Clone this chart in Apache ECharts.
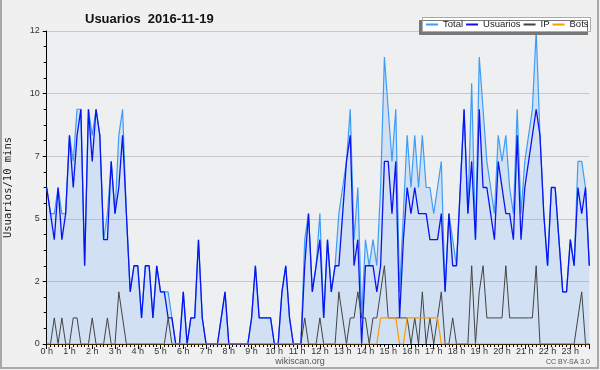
<!DOCTYPE html>
<html>
<head>
<meta charset="utf-8">
<script src="https://cdn.jsdelivr.net/npm/echarts@6/dist/echarts.min.js"></script>
<style>
html,body{margin:0;padding:0;background:#f0f0f0;}
#c{width:600px;height:370px;}
</style>
</head>
<body>
<div id="c"></div>
<script>
// 10-minute slots, 0:00 .. 23:50
var hourLabels = ['0 h','1 h','2 h','3 h','4 h','5 h','6 h','7 h','8 h','9 h','10 h','11 h','12 h','13 h','14 h','15 h','16 h','17 h','18 h','19 h','20 h','21 h','22 h','23 h'];
var yTicks = [0, 2.4, 4.8, 7.2, 9.6, 12];
var seriesNames = ['Total','Usuarios','IP','Bots'];

var total = [6,5,5,6,5,5,8,7,9,9,3,9,8,9,8,4,5,7,5,8,9,5,2,3,3,1,3,3,1,3,2,2,2,1,0,0,2,0,1,1,4,1,0,0,0,0,1,2,
  0,0,0,0,0,0,1,3,1,1,1,1,0,0,2,3,1,0,0,0,4,5,2,3,5,1,4,2,3,5,6,7,9,4,6,1,4,3,4,3,6,11,9,7,9,2,5,8,
  6,8,6,8,6,6,5,6,7,2,5,4,3,6,9,5,10,4,11,9,7,6,5,8,7,8,6,5,9,5,7,8,9,12,8,5,3,6,6,4,2,2,4,3,7,7,6,3];
var usuarios = [6,5,4,6,4,5,8,6,8,9,3,9,7,9,8,4,4,7,5,6,8,5,2,3,3,1,3,3,1,3,2,2,1,1,0,0,2,0,1,1,4,1,0,0,0,0,1,2,
  0,0,0,0,0,0,1,3,1,1,1,1,0,0,2,3,1,0,0,0,3,5,2,3,4,1,4,2,3,3,5,7,8,3,4,0,3,3,3,2,3,7,7,5,7,1,4,6,
  5,6,5,5,5,4,4,4,5,2,5,3,3,6,9,5,7,4,9,6,6,5,4,7,6,5,5,4,8,4,6,7,8,9,8,5,3,6,6,4,2,2,4,3,6,5,6,3];
var ip = [0,0,1,0,1,0,0,1,1,0,0,0,1,0,0,0,1,0,0,2,1,0,0,0,0,0,0,0,0,0,0,0,1,0,0,0,0,0,0,0,0,0,0,0,0,0,0,0,
  0,0,0,0,0,0,0,0,0,0,0,0,0,0,0,0,0,0,0,0,1,0,0,0,1,0,0,0,0,2,1,0,1,1,2,1,1,0,1,1,2,3,1,1,1,1,1,1,
  0,1,0,2,0,1,0,1,2,0,0,1,0,0,0,0,3,0,2,3,1,1,1,1,1,3,1,1,1,1,1,1,1,3,0,0,0,0,0,0,0,0,0,0,1,2,0,0];
var bots = [0,0,0,0,0,0,0,0,0,0,0,0,0,0,0,0,0,0,0,0,0,0,0,0,0,0,0,0,0,0,0,0,0,0,0,0,0,0,0,0,0,0,0,0,0,0,0,0,
  0,0,0,0,0,0,0,0,0,0,0,0,0,0,0,0,0,0,0,0,0,0,0,0,0,0,0,0,0,0,0,0,0,0,0,0,0,0,0,0,1,1,1,1,1,0,0,1,
  1,1,1,1,1,1,1,1,0,0,0,0,0,0,0,0,0,0,0,0,0,0,0,0,0,0,0,0,0,0,0,0,0,0,0,0,0,0,0,0,0,0,0,0,0,0,0,0];

function pairs(arr){ return arr.map(function(v,i){ return [i, v]; }); }

var chart = echarts.init(document.getElementById('c'), null, {renderer:'canvas'});
var fontMain = 'Liberation Sans, Arial, sans-serif';
chart.setOption({
  backgroundColor: '#f0f0f0',
  animation: false,
  title: {
    text: 'Usuarios  2016-11-19',
    left: 80, top: 8,
    textStyle: {fontSize: 13, fontWeight: 'bold', color: '#111', fontFamily: fontMain}
  },
  legend: {
    z: 20,
    left: 425, top: 19.5,
    itemWidth: 12, itemHeight: 2, itemGap: 2,
    padding: 0,
    textStyle: {fontSize: 9.5, color: '#222', fontFamily: fontMain},
    data: seriesNames
  },
  grid: {left: 46.7, right: 10.7, top: 31, bottom: 26, outerBoundsMode: 'none', show: true, backgroundColor: '#eeeff1', borderWidth: 0},
  xAxis: {
    type: 'value', min: 0, max: 143, interval: 6,
    axisLine: {lineStyle: {color: '#000', width: 1}},
    axisTick: {show: true, length: 5, lineStyle: {color: '#000'}},
    minorTick: {show: true, splitNumber: 6, length: 3, lineStyle: {color: '#000'}},
    splitLine: {show: false},
    axisLabel: {
      margin: 3, fontSize: 9, color: '#333', fontFamily: fontMain,
      showMaxLabel: false,
      formatter: function(v){ return (v % 6 === 0) ? hourLabels[v/6] : ''; }
    }
  },
  yAxis: {
    type: 'value', min: yTicks[0], max: yTicks[yTicks.length-1], interval: yTicks[1],
    name: 'Usuarios/10 mins', nameLocation: 'middle', nameGap: 33, nameRotate: 90,
    nameTextStyle: {fontFamily: 'DejaVu Sans Mono', fontSize: 10.5, color: '#222'},
    axisLine: {show: true, lineStyle: {color: '#000', width: 1}},
    axisTick: {show: true, length: 4, lineStyle: {color: '#000'}},
    minorTick: {show: true, splitNumber: 4, length: 3, lineStyle: {color: '#000'}},
    splitLine: {show: true, lineStyle: {color: '#c8c8cc', width: 1}},
    axisLabel: {
      margin: 7, fontSize: 9, color: '#333', fontFamily: fontMain,
      formatter: function(v){ return String(Math.round(v)); }
    }
  },
  graphic: [
    {type: 'rect', z: 1, shape: {x: 1, y: -2, width: 597, height: 370}, style: {fill: 'none', stroke: '#a8a8a8', lineWidth: 2}, silent: true},
    {type: 'rect', z: 6, shape: {x: 422.5, y: 17.5, width: 168, height: 14},
      style: {fill: '#ffffff', stroke: '#aaaaaa', lineWidth: 1, shadowBlur: 0, shadowOffsetX: -3, shadowOffsetY: 3, shadowColor: '#777777'}, silent: true},
    {type: 'text', x: 300, y: 362, style: {text: 'wikiscan.org', fontSize: 9, fill: '#555', align: 'center', verticalAlign: 'middle', fontFamily: fontMain}},
    {type: 'text', x: 590, y: 362, style: {text: 'CC BY-SA 3.0', fontSize: 7, fill: '#555', align: 'right', verticalAlign: 'middle', fontFamily: fontMain}}
  ],
  series: [
    {name: seriesNames[0], type: 'line', data: pairs(total), symbol: 'none', z: 2,
      lineStyle: {color: '#3d9cf5', width: 1.2}, itemStyle: {color: '#3d9cf5'},
      areaStyle: {color: 'rgba(51,153,255,0.22)'}},
    {name: seriesNames[1], type: 'line', data: pairs(usuarios), symbol: 'none', z: 3,
      lineStyle: {color: '#0a14f0', width: 1.3}, itemStyle: {color: '#0a14f0'}},
    {name: seriesNames[2], type: 'line', data: pairs(ip), symbol: 'none', z: 4,
      lineStyle: {color: '#444444', width: 1}, itemStyle: {color: '#444444'}},
    {name: seriesNames[3], type: 'line', data: pairs(bots), symbol: 'none', z: 5,
      lineStyle: {color: '#ff9a00', width: 1.2}, itemStyle: {color: '#ff9a00'}}
  ]
});
</script>
</body>
</html>
